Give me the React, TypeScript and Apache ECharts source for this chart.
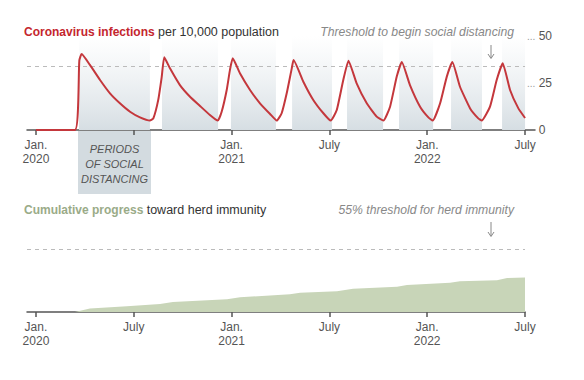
import React, { useEffect, useRef } from "react";
import * as echarts from "echarts";

// x values are months since Jan. 2020 (0 = Jan. 2020, 30 = July 2022)
const tickMonths = [0, 6, 12, 18, 24, 30];
const tickLabels = ["Jan.\n2020", "July", "Jan.\n2021", "July", "Jan.\n2022", "July"];
// July 2020 label on the top axis is hidden behind the "periods" box
const topLabelMonths = [0, 12, 18, 24, 30];

// Coronavirus infections per 10,000 population
const infectionMonths = [
  0, 2.39, 2.66, 2.8, 3.31, 3.93, 4.54, 5.15, 5.77, 6.38, 6.99,
  7.2, 7.5, 7.71, 7.87, 8.22, 8.83, 9.45, 10.06, 10.67, 11.15,
  11.39, 11.7, 11.9, 12.07, 12.52, 13.13, 13.74, 14.36, 14.77,
  15.07, 15.38, 15.69, 15.8, 16.4, 17.01, 17.63, 18.08,
  18.45, 18.85, 19.17, 19.67, 20.29, 20.9, 21.31,
  21.72, 22.13, 22.44, 22.94, 23.56, 24.07, 24.34,
  24.79, 25.2, 25.54, 26.01, 26.63, 27.13, 27.34,
  27.85, 28.26, 28.63, 29.08, 29.59, 30.0,
];
const infectionValues = [
  0, 0, 37, 40.4, 34.6, 26.6, 19.5, 14.2, 9.7, 6.7, 5,
  6.2, 16, 28, 38.7, 32.8, 23.9, 17.7, 12.8, 8, 5,
  9.7, 21.3, 32, 38.1, 30, 21.3, 14.2, 8.5, 5,
  8.9, 19.5, 32.8, 37.2, 25.7, 16, 8.9, 5,
  10.6, 26.6, 36.9, 24.8, 14.2, 7.1, 5,
  12.4, 28.4, 36.2, 23.9, 12.4, 6.7, 5,
  14.2, 28.4, 36.2, 23, 11.5, 6.2, 5,
  12.4, 26.6, 35.5, 21.3, 11.5, 6.4,
];
const distancingThreshold = 34;

// Periods of social distancing (start month, end month)
const distancingStarts = [2.64, 7.73, 11.96, 15.71, 19.08, 22.27, 25.46, 28.59];
const distancingEnds = [6.99, 11.17, 14.72, 18.16, 21.29, 24.36, 27.36, 30.0];

// Cumulative progress toward herd immunity (%)
const immunityMonths = [0, 2.39, 3.31, 5.58, 7.61, 8.4, 11.72, 12.52, 15.58, 16.2, 18.47, 19.45, 22.15, 22.76, 25.4, 26.01, 28.28, 28.9, 30.0];
const immunityValues = [0, 0, 3, 5, 7, 8.8, 11, 12.8, 15.4, 16.7, 18.1, 20.2, 22, 23.4, 25.5, 26.8, 27.6, 29.5, 30];
const herdThreshold = 55;

const topTicks = [0, 25, 50];

const FONT = "Liberation Sans, Arial, sans-serif";

export default function App() {
  const ref = useRef<HTMLDivElement>(null);
  useEffect(() => {
    if (!ref.current) return;
    const chart = echarts.init(ref.current, null, { renderer: "svg" });
    const labelFor = (v: number) => {
      const i = tickMonths.indexOf(Math.round(v));
      return i >= 0 ? tickLabels[i] : "";
    };
    const xAxisBase = (gridIndex: number, max: number, labelMonths: number[]) => ({
      type: "value",
      gridIndex,
      min: -0.55,
      max,
      axisLine: { show: true, onZero: false, lineStyle: { color: "#555", width: 1.5 } },
      axisTick: { show: true, customValues: tickMonths, length: 5, lineStyle: { color: "#555", width: 1.5 } },
      axisLabel: {
        customValues: labelMonths,
        formatter: labelFor,
        color: "#555",
        fontSize: 12,
        lineHeight: 14,
        margin: 8,
        fontFamily: FONT,
      },
      splitLine: { show: false },
    });
    const shadeGradient = new echarts.graphic.LinearGradient(0, 0, 0, 1, [
      { offset: 0, color: "rgba(225,231,235,0)" },
      { offset: 1, color: "rgba(214,222,227,1)" },
    ]);
    chart.setOption({
      animation: false,
      grid: [
        { left: 27, right: 49, top: 36, bottom: 250 },
        { left: 27, right: 59, top: 243, bottom: 68 },
      ],
      xAxis: [xAxisBase(0, 30.61, topLabelMonths), xAxisBase(1, 30, tickMonths)],
      yAxis: [
        {
          type: "value",
          gridIndex: 0,
          position: "right",
          min: 0,
          max: 50,
          interval: 25,
          axisLine: { show: false },
          axisTick: { show: false },
          splitLine: { show: false },
          axisLabel: {
            margin: -8,
            formatter: (v: number) =>
              topTicks.indexOf(v) < 0 ? "" : v === 0 ? `{h|...} {n|${v}}` : `{d|...} {n|${v}}`,
            rich: {
              d: { color: "#999", fontSize: 10, fontFamily: FONT },
              h: { color: "rgba(0,0,0,0)", fontSize: 10, fontFamily: FONT },
              n: { color: "#555", fontSize: 12, fontFamily: FONT },
            },
          },
        },
        {
          type: "value",
          gridIndex: 1,
          min: 0,
          max: 60,
          show: false,
        },
      ],
      series: [
        {
          type: "line",
          xAxisIndex: 0,
          yAxisIndex: 0,
          data: infectionMonths.map((m, i) => [m, infectionValues[i]]),
          smooth: 0.15,
          symbol: "none",
          lineStyle: { color: "#c4373c", width: 2 },
          z: 5,
          markArea: {
            silent: true,
            itemStyle: { color: shadeGradient },
            data: distancingStarts.map((s, i) => [
              { xAxis: s, yAxis: 0 },
              { xAxis: distancingEnds[i], yAxis: 50 },
            ]),
          },
          markLine: {
            silent: true,
            symbol: "none",
            label: { show: false },
            lineStyle: { color: "#bbb", type: [4, 4], width: 1 },
            data: [
              [
                { coord: [-0.55, distancingThreshold] },
                { coord: [30, distancingThreshold] },
              ],
            ],
          },
        },
        {
          type: "line",
          xAxisIndex: 1,
          yAxisIndex: 1,
          data: immunityMonths.map((m, i) => [m, immunityValues[i]]),
          symbol: "none",
          lineStyle: { width: 0 },
          areaStyle: { color: "#c8d5b8", opacity: 1 },
          markLine: {
            silent: true,
            symbol: "none",
            label: { show: false },
            lineStyle: { color: "#bbb", type: [4, 4], width: 1 },
            data: [[{ coord: [-0.55, herdThreshold] }, { coord: [30, herdThreshold] }]],
          },
        },
      ],
      graphic: [
        {
          type: "text",
          x: 24,
          y: 32,
          style: {
            text: "{b|Coronavirus infections} {r|per 10,000 population}",
            verticalAlign: "middle",
            rich: {
              b: { fontFamily: FONT, fontSize: 12, fontWeight: "bold", fill: "#c4262e" },
              r: { fontFamily: FONT, fontSize: 12.5, fill: "#333" },
            },
          },
        },
        {
          type: "text",
          x: 514,
          y: 32,
          style: {
            text: "Threshold to begin social distancing",
            align: "right",
            verticalAlign: "middle",
            fontFamily: FONT,
            fontSize: 12.2,
            fontStyle: "italic",
            fill: "#888",
          },
        },
        { type: "line", shape: { x1: 491, y1: 45, x2: 491, y2: 58 }, style: { stroke: "#888", lineWidth: 1 } },
        { type: "polyline", shape: { points: [[488, 54], [491, 58.5], [494, 54]] }, style: { stroke: "#888", lineWidth: 1, fill: null } },
        {
          type: "rect",
          shape: { x: 78, y: 131, width: 73, height: 63 },
          style: { fill: "#d3dbe0" },
          z: -1,
        },
        {
          type: "text",
          x: 114.5,
          y: 164,
          style: {
            text: "PERIODS\nOF SOCIAL\nDISTANCING",
            align: "center",
            verticalAlign: "middle",
            lineHeight: 15,
            fontFamily: FONT,
            fontSize: 11,
            fontStyle: "italic",
            fill: "#555",
          },
        },
        {
          type: "text",
          x: 24,
          y: 210,
          style: {
            text: "{b|Cumulative progress} {r|toward herd immunity}",
            verticalAlign: "middle",
            rich: {
              b: { fontFamily: FONT, fontSize: 12, fontWeight: "bold", fill: "#9aab88" },
              r: { fontFamily: FONT, fontSize: 12.5, fill: "#333" },
            },
          },
        },
        {
          type: "text",
          x: 514,
          y: 210,
          style: {
            text: "55% threshold for herd immunity",
            align: "right",
            verticalAlign: "middle",
            fontFamily: FONT,
            fontSize: 12.2,
            fontStyle: "italic",
            fill: "#888",
          },
        },
        { type: "line", shape: { x1: 491, y1: 222, x2: 491, y2: 236 }, style: { stroke: "#888", lineWidth: 1 } },
        { type: "polyline", shape: { points: [[488, 232], [491, 236.5], [494, 232]] }, style: { stroke: "#888", lineWidth: 1, fill: null } },
      ],
    });
    return () => chart.dispose();
  }, []);
  return (
    <div
      ref={ref}
      style={{ position: "fixed", left: 0, top: 0, width: 584, height: 380, background: "#fff" }}
    />
  );
}
